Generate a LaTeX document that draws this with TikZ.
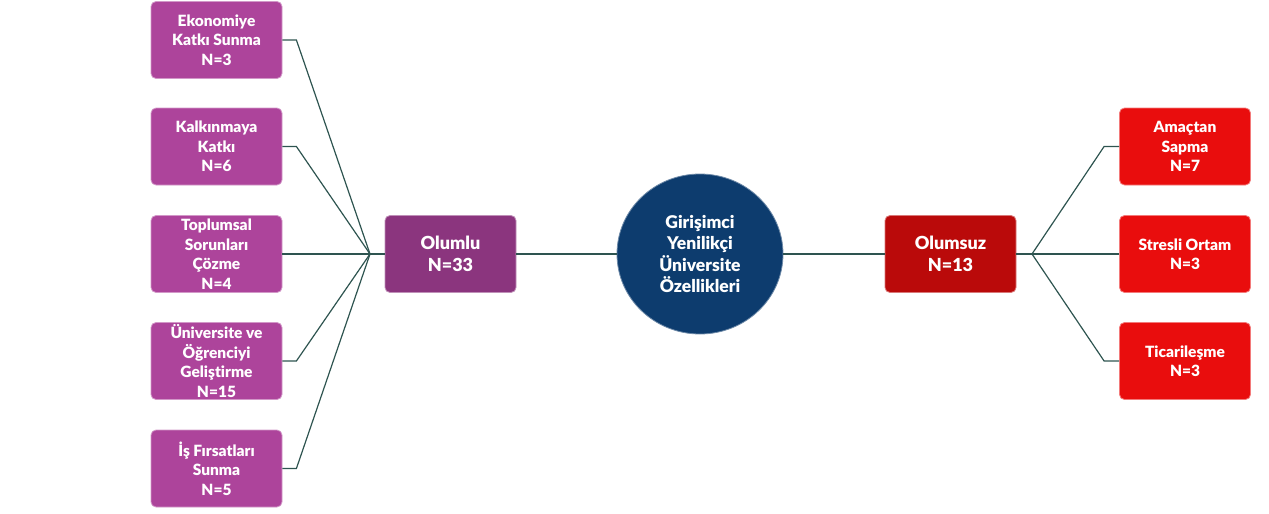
\documentclass[tikz,border=0pt]{standalone}
\usepackage{fontspec}
\setmainfont{Lato}[BoldFont={Lato Black}, Ligatures=NoCommon]
\usetikzlibrary{shapes.geometric}
\definecolor{lpurple}{HTML}{AD449B}
\definecolor{dpurple}{HTML}{8B357E}
\definecolor{cblue}{HTML}{0D3C6E}
\definecolor{dred}{HTML}{BA0A0A}
\definecolor{lred}{HTML}{E90D0D}
\definecolor{linec}{HTML}{2E5450}
\tikzset{
  box/.style={rectangle, rounded corners=5pt, fill=#1, draw=#1!55!white, line width=0.8pt,
    minimum width=131pt, minimum height=77pt, inner sep=0pt, align=center,
    text=white, font=\bfseries\fontsize{15.5}{19.5}\selectfont},
  midbox/.style={box=#1, font=\bfseries\fontsize{18}{22}\selectfont},
  hub/.style={ellipse, fill=cblue, draw=cblue!60!white, line width=0.8pt,
    minimum width=166pt, minimum height=160pt, inner sep=0pt, align=center,
    text=white, font=\bfseries\fontsize{17.5}{21.5}\selectfont},
  conn/.style={draw=linec, line width=1.2pt}
}
\begin{document}
\begin{tikzpicture}[x=1pt,y=-1pt]
\useasboundingbox (0,0) rectangle (1269,514);
% left leaves
\node[box=lpurple] (l1) at (216.5,40) {Ekonomiye\\Katkı Sunma\\N=3};
\node[box=lpurple] (l2) at (216.5,146.5) {Kalkınmaya\\Katkı\\N=6};
\node[box=lpurple] (l3) at (216.5,254) {Toplumsal\\Sorunları\\Çözme\\N=4};
\node[box=lpurple] (l4) at (216.5,361) {Üniversite ve\\Öğrenciyi\\Geliştirme\\N=15};
\node[box=lpurple] (l5) at (216.5,468.5) {İş Fırsatları\\Sunma\\N=5};
% middle
\node[midbox=dpurple] (olumlu) at (450.5,254) {Olumlu\\N=33};
\node[hub] (hub) at (700,254) {Girişimci\\Yenilikçi\\Üniversite\\Özellikleri};
\node[midbox=dred] (olumsuz) at (950.5,254) {Olumsuz\\N=13};
% right leaves
\node[box=lred] (r1) at (1185,146.5) {Amaçtan\\Sapma\\N=7};
\node[box=lred] (r2) at (1185,254) {Stresli Ortam\\N=3};
\node[box=lred] (r3) at (1185,361) {Ticarileşme\\N=3};
% junctions
\coordinate (jl) at (370,254);
\coordinate (jr) at (1032,254);
% connectors left
\foreach \n in {l1,l2,l3,l4,l5}{
  \draw[conn] (\n.east) -- ++(14,0) -- (jl);
}
\draw[conn] (jl) -- (olumlu.west);
\draw[conn] (olumlu.east) -- (hub.west);
\draw[conn] (hub.east) -- (olumsuz.west);
\draw[conn] (olumsuz.east) -- (jr);
\foreach \n in {r1,r2,r3}{
  \draw[conn] (jr) -- ([xshift=-15pt]\n.west) -- (\n.west);
}
\end{tikzpicture}
\end{document}
